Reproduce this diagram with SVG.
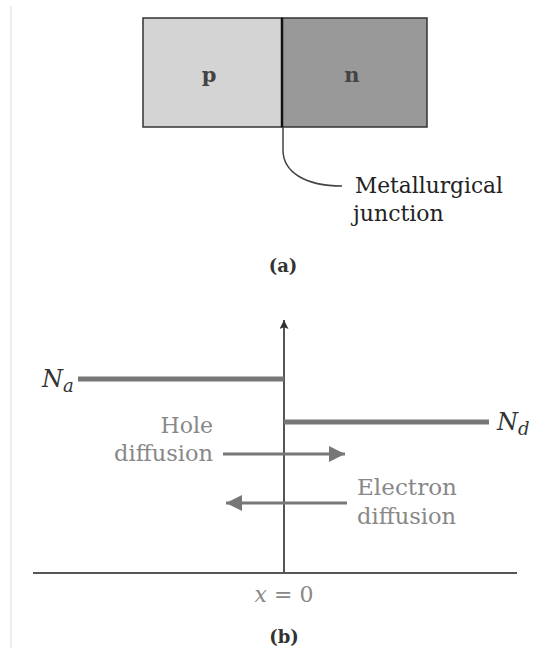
<svg xmlns="http://www.w3.org/2000/svg" width="541" height="650" viewBox="0 0 541 650">
<style>
.lbl{font-family:"DejaVu Serif","Liberation Serif",serif;}
.box{stroke:#333;stroke-width:1.5;}
.gray{fill:#888;}
.ax{stroke:#555;stroke-width:2;fill:none;}
.lvl{stroke:#777;stroke-width:5;}
.arr{stroke:#777;stroke-width:3;}
</style>
<defs>
<marker id="ah" viewBox="0 0 10 10" refX="10" refY="5" markerWidth="12" markerHeight="9" markerUnits="userSpaceOnUse" orient="auto">
<path d="M0,0 L10,5 L0,10 L2,5 Z" fill="#333"/>
</marker>
<marker id="big" viewBox="0 0 10 10" refX="10" refY="5" markerWidth="28" markerHeight="16" markerUnits="userSpaceOnUse" orient="auto">
<path d="M0,0 L10,5 L0,10 Z" fill="#777"/>
</marker>
</defs>
<rect width="541" height="650" fill="#fff"/>
<line x1="11" y1="6" x2="11" y2="648" stroke="#eee" stroke-width="2"/>

<g id="p-region">
<rect class="box" x="143" y="18" width="139" height="109" fill="#d4d4d4"/>
<text class="lbl" x="209" y="82" font-size="21" font-weight="bold" fill="#444" text-anchor="middle">p</text>
</g>
<g id="n-region">
<rect class="box" x="282" y="18" width="145" height="109" fill="#999"/>
<text class="lbl" x="352" y="82" font-size="21" font-weight="bold" fill="#444" text-anchor="middle">n</text>
</g>
<line x1="282" y1="18" x2="282" y2="127" stroke="#111" stroke-width="2.5"/>

<g id="junction-label">
<text class="lbl" x="355" y="193" font-size="22" fill="#222" textLength="148" lengthAdjust="spacingAndGlyphs">Metallurgical</text>
<text class="lbl" x="353" y="221" font-size="22" fill="#222">junction</text>
</g>
<text id="cap-a" class="lbl" x="283" y="272" font-size="18" font-weight="bold" fill="#333" text-anchor="middle">(a)</text>

<g id="connectors">
<path d="M283,127 L283,150 C283,172 305,186 342,186" stroke="#444" stroke-width="1.5" fill="none"/>
<line class="ax" x1="284" y1="573" x2="284" y2="320" marker-end="url(#ah)"/>
<line class="ax" x1="33" y1="573" x2="517" y2="573"/>
<line class="lvl" x1="78" y1="379" x2="284" y2="379"/>
<line class="lvl" x1="284" y1="422" x2="489" y2="422"/>
<line class="arr" x1="223" y1="454" x2="345" y2="454" marker-end="url(#big)"/>
<line class="arr" x1="347" y1="503" x2="226" y2="503" marker-end="url(#big)"/>
</g>

<g id="Na">
<text class="lbl" x="42" y="387" font-size="24" font-style="italic" fill="#333">N<tspan font-size="18" dy="5">a</tspan></text>
</g>
<g id="Nd">
<text class="lbl" x="497" y="430" font-size="24" font-style="italic" fill="#333">N<tspan font-size="18" dy="5">d</tspan></text>
</g>
<g id="hole-diffusion">
<text class="lbl gray" x="213" y="433" font-size="22" text-anchor="end">Hole</text>
<text class="lbl gray" x="213" y="461" font-size="22" text-anchor="end" textLength="99" lengthAdjust="spacingAndGlyphs">diffusion</text>
</g>
<g id="electron-diffusion">
<text class="lbl gray" x="357" y="495" font-size="22" textLength="100" lengthAdjust="spacingAndGlyphs">Electron</text>
<text class="lbl gray" x="357" y="524" font-size="22" textLength="99" lengthAdjust="spacingAndGlyphs">diffusion</text>
</g>
<text id="x0" class="lbl gray" x="284" y="602" font-size="22" text-anchor="middle"><tspan font-style="italic">x</tspan> = 0</text>
<text id="cap-b" class="lbl" x="284" y="643" font-size="18" font-weight="bold" fill="#333" text-anchor="middle">(b)</text>
</svg>
